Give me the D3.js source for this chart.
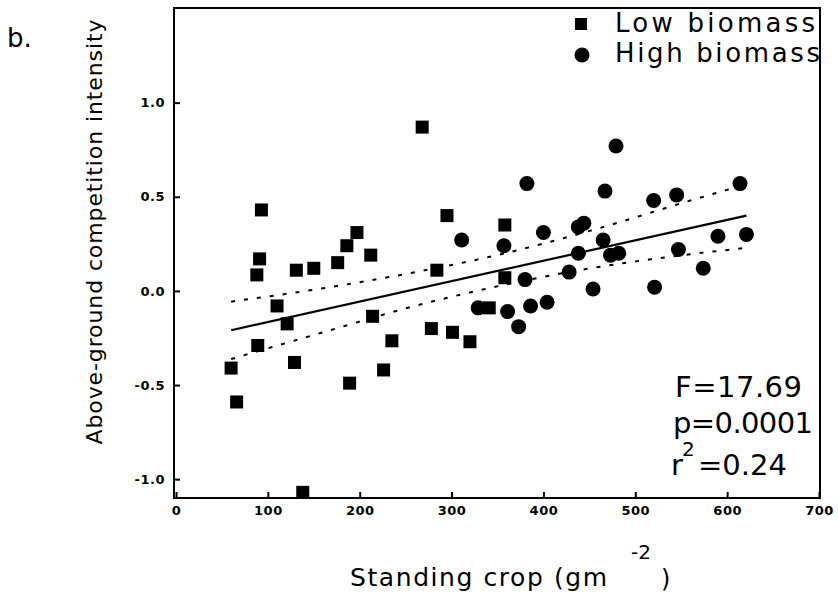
<!DOCTYPE html>
<html>
<head>
<meta charset="utf-8">
<script src="https://cdn.jsdelivr.net/npm/d3@7"></script>
<style>
  body { margin: 0; background: #fff; }
  svg { display: block; }
  .tick text { font-family: "DejaVu Sans", sans-serif; font-weight: bold; font-size: 13px; letter-spacing: 0.5px; fill: #000; }
  .tick line { stroke: #000; stroke-width: 2px; }
  .lbl { font-family: "DejaVu Sans", sans-serif; fill: #000; }
</style>
</head>
<body>
<div id="chart"></div>
<script>
// Low biomass plots (squares): standing crop, competition intensity
const lowX = [60, 66, 88, 91, 93, 89, 110, 121, 129, 131, 138, 150, 176, 186, 189, 197, 212, 214, 226, 235, 268, 278, 284, 295, 301, 320, 341, 358, 358];
const lowY = [-0.41, -0.59, 0.085, 0.17, 0.43, -0.29, -0.08, -0.175, -0.38, 0.11, -1.07, 0.12, 0.15, 0.24, -0.49, 0.31, 0.19, -0.135, -0.42, -0.265, 0.87, -0.20, 0.11, 0.40, -0.22, -0.27, -0.09, 0.35, 0.07];

// High biomass plots (circles)
const highX = [311, 329, 357, 361, 373, 380, 382, 386, 400, 404, 428, 438, 438, 444, 454, 465, 467, 473, 479, 482, 520, 521, 545, 547, 574, 590, 614, 621];
const highY = [0.27, -0.09, 0.24, -0.11, -0.19, 0.06, 0.57, -0.08, 0.31, -0.06, 0.10, 0.20, 0.34, 0.36, 0.01, 0.27, 0.53, 0.19, 0.77, 0.20, 0.48, 0.02, 0.51, 0.22, 0.12, 0.29, 0.57, 0.30];

// fitted regression line (end points) and 95% confidence band
const fitX = [60, 621];
const fitY = [-0.209, 0.400];
const ciX = [60, 160, 260, 360, 460, 560, 620];
const ciUpper = [-0.057, 0.014, 0.099, 0.202, 0.332, 0.480, 0.565];
const ciLower = [-0.362, -0.220, -0.080, 0.035, 0.127, 0.195, 0.228];

const xTicks = [0, 100, 200, 300, 400, 500, 600, 700];
const yTicks = [-1.0, -0.5, 0.0, 0.5, 1.0];
const stats = ["F=17.69", "p=0.0001", "=0.24"];

const frame = { left: 174, right: 820, top: 8, bottom: 498 };

const svg = d3.select("#chart").append("svg")
  .attr("width", 838)
  .attr("height", 594);

const x = d3.scaleLinear().domain([0, 700]).range([176, 819]);
const y = d3.scaleLinear().domain([-1.1, 1.5]).range([498, 8.5]);

// frame
svg.append("rect")
  .attr("x", frame.left)
  .attr("y", frame.top)
  .attr("width", frame.right - frame.left)
  .attr("height", frame.bottom - frame.top)
  .attr("fill", "none")
  .attr("stroke", "#000")
  .attr("stroke-width", 2);

// axes, ticks pointing inwards
svg.append("g")
  .attr("transform", `translate(${frame.left},0)`)
  .call(d3.axisLeft(y).tickValues(yTicks).tickSize(-6).tickPadding(9)
    .tickFormat((d) => d.toFixed(1)))
  .call((g) => g.select(".domain").remove());

svg.append("g")
  .attr("transform", `translate(0,${frame.bottom})`)
  .call(d3.axisBottom(x).tickValues(xTicks).tickSize(-6).tickPadding(8))
  .call((g) => g.select(".domain").remove());

// confidence band
const line = d3.line().x((d) => x(d[0])).y((d) => y(d[1]));
[ciUpper, ciLower].forEach((band) => {
  svg.append("path")
    .datum(ciX.map((v, i) => [v, band[i]]))
    .attr("d", line.curve(d3.curveMonotoneX))
    .attr("fill", "none")
    .attr("stroke", "#000")
    .attr("stroke-width", 2)
    .attr("stroke-dasharray", "4,9");
});

// regression line
svg.append("path")
  .datum(fitX.map((v, i) => [v, fitY[i]]))
  .attr("d", d3.line().x((d) => x(d[0])).y((d) => y(d[1])))
  .attr("fill", "none")
  .attr("stroke", "#000")
  .attr("stroke-width", 2.2);

// points
const sq = 13;
svg.append("g").selectAll("rect")
  .data(lowX.map((v, i) => [v, lowY[i]]))
  .join("rect")
  .attr("x", (d) => x(d[0]) - sq / 2)
  .attr("y", (d) => y(d[1]) - sq / 2)
  .attr("width", sq)
  .attr("height", sq)
  .attr("fill", "#000");

svg.append("g").selectAll("circle")
  .data(highX.map((v, i) => [v, highY[i]]))
  .join("circle")
  .attr("cx", (d) => x(d[0]))
  .attr("cy", (d) => y(d[1]))
  .attr("r", 7.5)
  .attr("fill", "#000");

// legend
svg.append("rect").attr("x", 575).attr("y", 18).attr("width", 12).attr("height", 12).attr("fill", "#000");
svg.append("circle").attr("cx", 582).attr("cy", 55).attr("r", 7.5).attr("fill", "#000");
svg.append("text").attr("class", "lbl").attr("x", 615).attr("y", 32)
  .style("font-size", "26px").attr("textLength", 200).text("Low biomass");
svg.append("text").attr("class", "lbl").attr("x", 615).attr("y", 62)
  .style("font-size", "26px").attr("textLength", 205).text("High biomass");

// statistics
svg.append("text").attr("class", "lbl").attr("x", 675).attr("y", 397)
  .style("font-size", "29px").attr("textLength", 127).text(stats[0]);
svg.append("text").attr("class", "lbl").attr("x", 673).attr("y", 433)
  .style("font-size", "29px").attr("textLength", 140).text(stats[1]);
svg.append("text").attr("class", "lbl").attr("x", 671).attr("y", 475)
  .style("font-size", "29px").text("r");
svg.append("text").attr("class", "lbl").attr("x", 682).attr("y", 456)
  .style("font-size", "20px").text("2");
svg.append("text").attr("class", "lbl").attr("x", 698).attr("y", 475)
  .style("font-size", "29px").attr("textLength", 89).text(stats[2]);

// panel letter and axis titles
svg.append("text").attr("class", "lbl").attr("x", 7).attr("y", 47)
  .style("font-size", "26px").text("b.");

svg.append("text").attr("class", "lbl")
  .attr("transform", "translate(102,232) rotate(-90)")
  .attr("text-anchor", "middle")
  .style("font-size", "22px")
  .attr("textLength", 425)
  .text("Above-ground competition intensity");

svg.append("text").attr("class", "lbl").attr("x", 350).attr("y", 586)
  .style("font-size", "25px").attr("textLength", 257).text("Standing crop (gm");
svg.append("text").attr("class", "lbl").attr("x", 631).attr("y", 559)
  .style("font-size", "20px").text("-2");
svg.append("text").attr("class", "lbl").attr("x", 661).attr("y", 587)
  .style("font-size", "24px").text(")");
</script>
</body>
</html>
